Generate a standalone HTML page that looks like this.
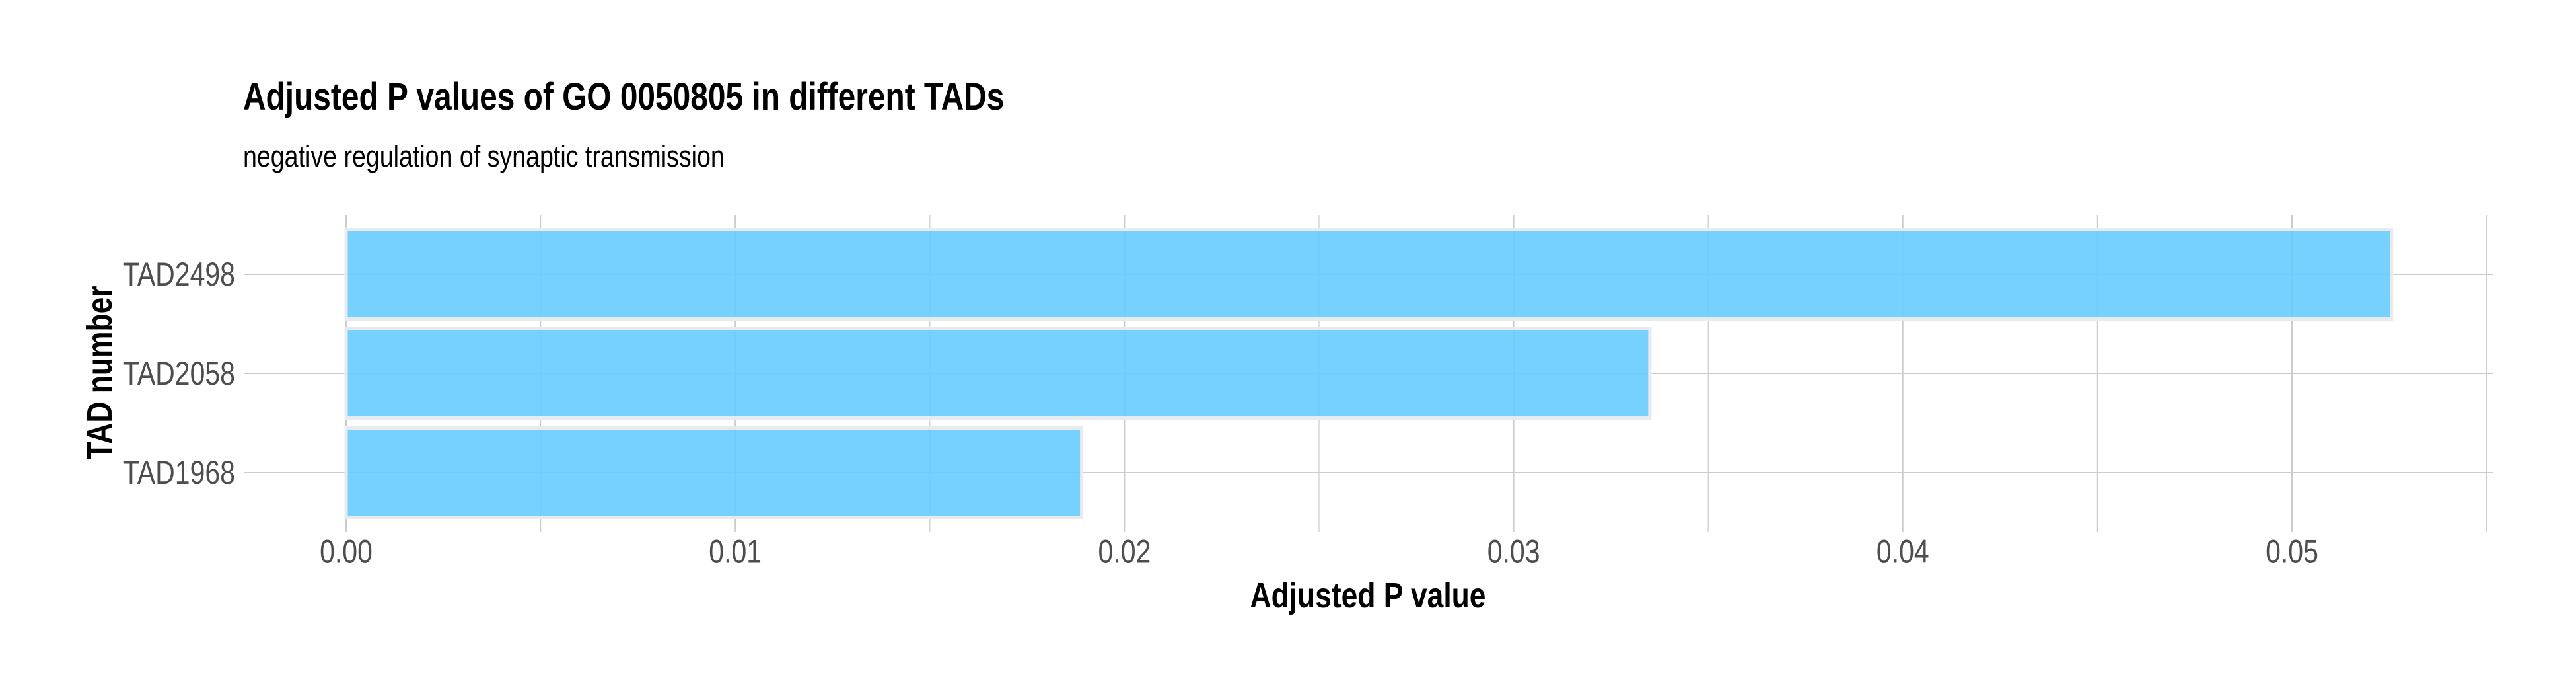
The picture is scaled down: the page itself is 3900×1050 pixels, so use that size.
<!DOCTYPE html>
<html lang="en">
<head>
<meta charset="utf-8">
<title>Adjusted P values of GO 0050805 in different TADs</title>
<style>
html,body{margin:0;padding:0;background:#fff;}
svg{display:block;font-family:"Liberation Sans",Arial,sans-serif;}
</style>
</head>
<body>
<svg id="chart" xmlns="http://www.w3.org/2000/svg" width="3900" height="1050" viewBox="0 0 3900 1050">
  <rect x="0" y="0" width="3900" height="1050" fill="#ffffff"/>
  <text transform="translate(368,166) scale(0.8205,1)" font-size="58.33" font-weight="700" fill="#000000">Adjusted P values of GO 0050805 in different TADs</text>
  <text transform="translate(368,252) scale(0.82,1)" font-size="45.83" fill="#000000">negative regulation of synaptic transmission</text>
  <g id="grid"></g>
  <g id="bars"></g>
  <g id="x-labels"></g>
  <g id="y-labels"></g>
  <text transform="translate(2071,919) scale(0.82,1)" font-size="54.17" font-weight="700" text-anchor="middle" fill="#000000">Adjusted P value</text>
  <text transform="translate(169,564) rotate(-90) scale(0.82,1)" font-size="54.17" font-weight="700" text-anchor="middle" fill="#000000">TAD number</text>
</svg>
<script>
const categories = ["TAD2498", "TAD2058", "TAD1968"];
const adjustedP = [0.05256, 0.0335, 0.0189];
const majorTicks = [0, 0.01, 0.02, 0.03, 0.04, 0.05];
const majorTickLabels = ["0.00", "0.01", "0.02", "0.03", "0.04", "0.05"];
const minorTicks = [0.005, 0.015, 0.025, 0.035, 0.045, 0.055];

const NS = "http://www.w3.org/2000/svg";
const panel = {left: 369, right: 3775, top: 325, bottom: 805};
const textSquash = 0.82;
function xScale(v) { return 524 + v * 58920; }
function yScale(i) { return 415 + i * 150; }
const bandHeight = 135;

const grid = document.getElementById("grid");
const bars = document.getElementById("bars");
const xLabels = document.getElementById("x-labels");
const yLabels = document.getElementById("y-labels");

function make(tag, attrs, parent) {
  const el = document.createElementNS(NS, tag);
  for (const k in attrs) el.setAttribute(k, attrs[k]);
  parent.appendChild(el);
  return el;
}

minorTicks.forEach(function (t) {
  const line = make("line", {x1: xScale(t), x2: xScale(t), y1: panel.top, y2: panel.bottom, stroke: "#cccccc", "stroke-width": 1.2}, grid);
  
  
});

majorTicks.forEach(function (t, i) {
  const line = make("line", {x1: xScale(t), x2: xScale(t), y1: panel.top, y2: panel.bottom, stroke: "#cccccc", "stroke-width": 2}, grid);
  
  
  const label = make("text", {transform: "translate(" + xScale(t) + ",851.7) scale(" + textSquash + ",1)", "font-size": 50, "text-anchor": "middle", fill: "#4d4d4d"}, xLabels);
  label.textContent = majorTickLabels[i];
  
  
});

categories.forEach(function (c, i) {
  const line = make("line", {x1: panel.left, x2: panel.right, y1: yScale(i), y2: yScale(i), stroke: "#cccccc", "stroke-width": 2}, grid);
  
  
  const label = make("text", {transform: "translate(356," + (yScale(i) + 17) + ") scale(" + textSquash + ",1)", "font-size": 50, "text-anchor": "end", fill: "#4d4d4d"}, yLabels);
  label.textContent = c;
  
  
});

adjustedP.forEach(function (v, i) {
  const fill = make("rect", {x: xScale(0), y: yScale(i) - bandHeight / 2, width: xScale(v) - xScale(0), height: bandHeight, fill: "rgba(104,204,255,0.9)", stroke: "#e8ebee", "stroke-width": 5}, bars);
  
  
});
</script>
</body>
</html>
